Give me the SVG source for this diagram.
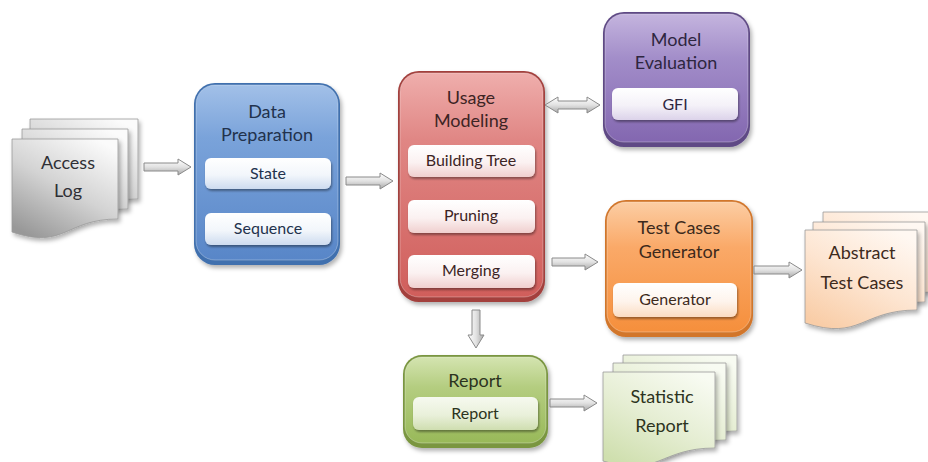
<svg xmlns="http://www.w3.org/2000/svg" width="928" height="462" viewBox="0 0 928 462">
  <style>
    text { font-family: Lato, "Liberation Sans", sans-serif; fill: #2f2f35; text-anchor: middle; }
    .title { font-size: 18px; }
    .item-label { font-size: 16px; }
    .doc-label { font-size: 18px; }
    .blue-text { fill: #22324d; }
    .red-text { fill: #3d2424; }
    .purple-text { fill: #2e2640; }
    .orange-text { fill: #3d2a1c; }
    .green-text { fill: #2c3320; }
    .arrow { stroke: #8a8a8a; stroke-width: 1; stroke-linejoin: round; }
    .h-arrow { fill: url(#arrowV); }
    .v-arrow { fill: url(#arrowH); }
    .box { filter: url(#shadow); }
    .body { stroke: #ffffff; stroke-opacity: 0.3; stroke-width: 1; }
    .item { filter: url(#itemShadow); }
    .page { stroke: #9a9a9a; stroke-width: 0.8; filter: url(#shadow); }
  </style>
  <defs>
    <filter id="shadow" x="-10%" y="-10%" width="125%" height="125%">
      <feDropShadow dx="2" dy="3" stdDeviation="2" flood-color="#000" flood-opacity="0.3"/>
    </filter>
    <filter id="itemShadow" x="-10%" y="-20%" width="125%" height="150%">
      <feDropShadow dx="1" dy="2" stdDeviation="1.2" flood-color="#000" flood-opacity="0.38"/>
    </filter>
    <!-- block arrow fills -->
    <linearGradient id="arrowV" x1="0" y1="0" x2="0" y2="1">
      <stop offset="0" stop-color="#ffffff"/>
      <stop offset="0.5" stop-color="#e2e2e2"/>
      <stop offset="1" stop-color="#a8a8a8"/>
    </linearGradient>
    <linearGradient id="arrowH" x1="0" y1="0" x2="1" y2="0">
      <stop offset="0" stop-color="#ffffff"/>
      <stop offset="0.5" stop-color="#e2e2e2"/>
      <stop offset="1" stop-color="#a8a8a8"/>
    </linearGradient>
    <!-- box bodies -->
    <linearGradient id="blueFill" x1="0" y1="0" x2="0" y2="1">
      <stop offset="0" stop-color="#a2c0e8"/>
      <stop offset="0.3" stop-color="#7aa3da"/>
      <stop offset="1" stop-color="#5886c8"/>
    </linearGradient>
    <linearGradient id="redFill" x1="0" y1="0" x2="0" y2="1">
      <stop offset="0" stop-color="#efaeac"/>
      <stop offset="0.3" stop-color="#e08684"/>
      <stop offset="1" stop-color="#d05e5b"/>
    </linearGradient>
    <linearGradient id="purpleFill" x1="0" y1="0" x2="0" y2="1">
      <stop offset="0" stop-color="#c4b4de"/>
      <stop offset="0.35" stop-color="#a28dc9"/>
      <stop offset="1" stop-color="#8367b0"/>
    </linearGradient>
    <linearGradient id="orangeFill" x1="0" y1="0" x2="0" y2="1">
      <stop offset="0" stop-color="#fccda3"/>
      <stop offset="0.35" stop-color="#faa968"/>
      <stop offset="1" stop-color="#f58f3c"/>
    </linearGradient>
    <linearGradient id="greenFill" x1="0" y1="0" x2="0" y2="1">
      <stop offset="0" stop-color="#d4e4b0"/>
      <stop offset="0.35" stop-color="#b4cd80"/>
      <stop offset="1" stop-color="#98b959"/>
    </linearGradient>
    <!-- inner items -->
    <linearGradient id="blueItem" x1="0" y1="0" x2="0" y2="1">
      <stop offset="0" stop-color="#ffffff"/>
      <stop offset="0.55" stop-color="#f2f6fb"/>
      <stop offset="1" stop-color="#cddbef"/>
    </linearGradient>
    <linearGradient id="redItem" x1="0" y1="0" x2="0" y2="1">
      <stop offset="0" stop-color="#ffffff"/>
      <stop offset="0.55" stop-color="#fbf1f1"/>
      <stop offset="1" stop-color="#f0cfce"/>
    </linearGradient>
    <linearGradient id="purpleItem" x1="0" y1="0" x2="0" y2="1">
      <stop offset="0" stop-color="#ffffff"/>
      <stop offset="0.55" stop-color="#f4f1f8"/>
      <stop offset="1" stop-color="#dcd3ea"/>
    </linearGradient>
    <linearGradient id="orangeItem" x1="0" y1="0" x2="0" y2="1">
      <stop offset="0" stop-color="#ffffff"/>
      <stop offset="0.55" stop-color="#fef4ec"/>
      <stop offset="1" stop-color="#fbdcc2"/>
    </linearGradient>
    <linearGradient id="greenItem" x1="0" y1="0" x2="0" y2="1">
      <stop offset="0" stop-color="#f6f9ef"/>
      <stop offset="0.55" stop-color="#e9f0da"/>
      <stop offset="1" stop-color="#cfdeb0"/>
    </linearGradient>
    <!-- document pages -->
    <linearGradient id="grayPage" x1="0.8" y1="0" x2="0.2" y2="1">
      <stop offset="0" stop-color="#fbfbfb"/>
      <stop offset="0.5" stop-color="#d3d3d3"/>
      <stop offset="1" stop-color="#989898"/>
    </linearGradient>
    <linearGradient id="peachPage" x1="0.8" y1="0" x2="0.2" y2="1">
      <stop offset="0" stop-color="#fff8f2"/>
      <stop offset="0.5" stop-color="#fde5d1"/>
      <stop offset="1" stop-color="#f9cda7"/>
    </linearGradient>
    <linearGradient id="greenPage" x1="0.8" y1="0" x2="0.2" y2="1">
      <stop offset="0" stop-color="#f8fbf2"/>
      <stop offset="0.5" stop-color="#e6eed4"/>
      <stop offset="1" stop-color="#cfdfae"/>
    </linearGradient>
  </defs>

  <rect width="928" height="462" fill="#ffffff"/>

  <!-- Access Log: stacked document -->
  <g id="access-log">
    <path class="page" fill="url(#grayPage)" d="M30,119 H138 V199 C84,199 84,230 30,212 Z"/>
    <path class="page" fill="url(#grayPage)" d="M22,129 H128 V209 C75,209 75,240 22,222 Z"/>
    <path class="page" fill="url(#grayPage)" d="M12,139 H118 V219 C65,219 65,250 12,232 Z"/>
    <text class="doc-label" x="68" y="169">Access</text>
    <text class="doc-label" x="68" y="197">Log</text>
  </g>

  <!-- Data Preparation -->
  <g id="data-preparation">
    <rect class="box" x="194" y="83" width="146" height="182" rx="21" fill="#3f6fae"/>
    <rect class="body" x="196" y="85" width="142" height="175" rx="19" fill="url(#blueFill)"/>
    <text class="title blue-text" x="267" y="118">Data</text>
    <text class="title blue-text" x="267" y="141">Preparation</text>
    <rect class="item" x="205" y="158" width="126" height="31" rx="6" fill="url(#blueItem)"/>
    <text class="item-label blue-text" x="268" y="179">State</text>
    <rect class="item" x="205" y="213" width="126" height="32" rx="6" fill="url(#blueItem)"/>
    <text class="item-label blue-text" x="268" y="234">Sequence</text>
  </g>

  <!-- Usage Modeling -->
  <g id="usage-modeling">
    <rect class="box" x="398" y="71" width="147" height="231" rx="21" fill="#a33f3c"/>
    <rect class="body" x="400" y="73" width="143" height="224" rx="19" fill="url(#redFill)"/>
    <text class="title red-text" x="471" y="104">Usage</text>
    <text class="title red-text" x="471" y="127">Modeling</text>
    <rect class="item" x="408" y="145" width="127" height="32" rx="6" fill="url(#redItem)"/>
    <text class="item-label red-text" x="471" y="166">Building Tree</text>
    <rect class="item" x="408" y="200" width="127" height="33" rx="6" fill="url(#redItem)"/>
    <text class="item-label red-text" x="471" y="221">Pruning</text>
    <rect class="item" x="408" y="255" width="127" height="33" rx="6" fill="url(#redItem)"/>
    <text class="item-label red-text" x="471" y="276">Merging</text>
  </g>

  <!-- Model Evaluation -->
  <g id="model-evaluation">
    <rect class="box" x="603" y="12" width="147" height="135" rx="21" fill="#5f4a85"/>
    <rect class="body" x="605" y="14" width="143" height="128" rx="19" fill="url(#purpleFill)"/>
    <text class="title purple-text" x="676" y="46">Model</text>
    <text class="title purple-text" x="676" y="69">Evaluation</text>
    <rect class="item" x="612" y="88" width="126" height="32" rx="6" fill="url(#purpleItem)"/>
    <text class="item-label purple-text" x="675" y="110">GFI</text>
  </g>

  <!-- Test Cases Generator -->
  <g id="test-cases-generator">
    <rect class="box" x="605" y="200" width="148" height="137" rx="21" fill="#d2762c"/>
    <rect class="body" x="607" y="202" width="144" height="130" rx="19" fill="url(#orangeFill)"/>
    <text class="title orange-text" x="679" y="234">Test Cases</text>
    <text class="title orange-text" x="679" y="258">Generator</text>
    <rect class="item" x="613" y="283" width="124" height="34" rx="6" fill="url(#orangeItem)"/>
    <text class="item-label orange-text" x="675" y="305">Generator</text>
  </g>

  <!-- Abstract Test Cases: stacked document -->
  <g id="abstract-test-cases">
    <path class="page" fill="url(#peachPage)" d="M823,212 H935 V292 C879,292 879,323 823,305 Z"/>
    <path class="page" fill="url(#peachPage)" d="M813,222 H925 V302 C869,302 869,333 813,315 Z"/>
    <path class="page" fill="url(#peachPage)" d="M805,230 H917 V310 C861,310 861,341 805,323 Z"/>
    <text class="doc-label orange-text" x="862" y="259">Abstract</text>
    <text class="doc-label orange-text" x="862" y="289">Test Cases</text>
  </g>

  <!-- Report -->
  <g id="report">
    <rect class="box" x="403" y="355" width="145" height="93" rx="19" fill="#7a9640"/>
    <rect class="body" x="405" y="357" width="141" height="86" rx="17" fill="url(#greenFill)"/>
    <text class="title green-text" x="475" y="387">Report</text>
    <rect class="item" x="413" y="397" width="125" height="33" rx="6" fill="url(#greenItem)"/>
    <text class="item-label green-text" x="475" y="419">Report</text>
  </g>

  <!-- Statistic Report: stacked document -->
  <g id="statistic-report">
    <path class="page" fill="url(#greenPage)" d="M623,355 H737 V431 C680,431 680,460 623,443 Z"/>
    <path class="page" fill="url(#greenPage)" d="M613,363 H726 V440 C669,440 669,470 613,452 Z"/>
    <path class="page" fill="url(#greenPage)" d="M603,372 H715 V448 C659,448 659,478 603,461 Z"/>
    <text class="doc-label green-text" x="662" y="403">Statistic</text>
    <text class="doc-label green-text" x="662" y="432">Report</text>
  </g>

  <!-- Connectors: block arrows -->
  <g id="connectors">
    <path class="arrow h-arrow" d="M144,163 H178 V159 L191,167 L178,175 V171 H144 Z"/>
    <path class="arrow h-arrow" d="M346,177 H380 V173 L393,181 L380,189 V185 H346 Z"/>
    <path class="arrow h-arrow" d="M545,105 L558,97 V101 H587 V97 L600,105 L587,113 V109 H558 V113 Z"/>
    <path class="arrow h-arrow" d="M552,258 H585 V254 L598,262 L585,270 V266 H552 Z"/>
    <path class="arrow h-arrow" d="M754,266 H789 V262 L802,270 L789,278 V274 H754 Z"/>
    <path class="arrow v-arrow" d="M472,310 H480 V335 H484 L476,348 L468,335 H472 Z"/>
    <path class="arrow h-arrow" d="M550,399 H584 V395 L597,403 L584,411 V407 H550 Z"/>
  </g>
</svg>
